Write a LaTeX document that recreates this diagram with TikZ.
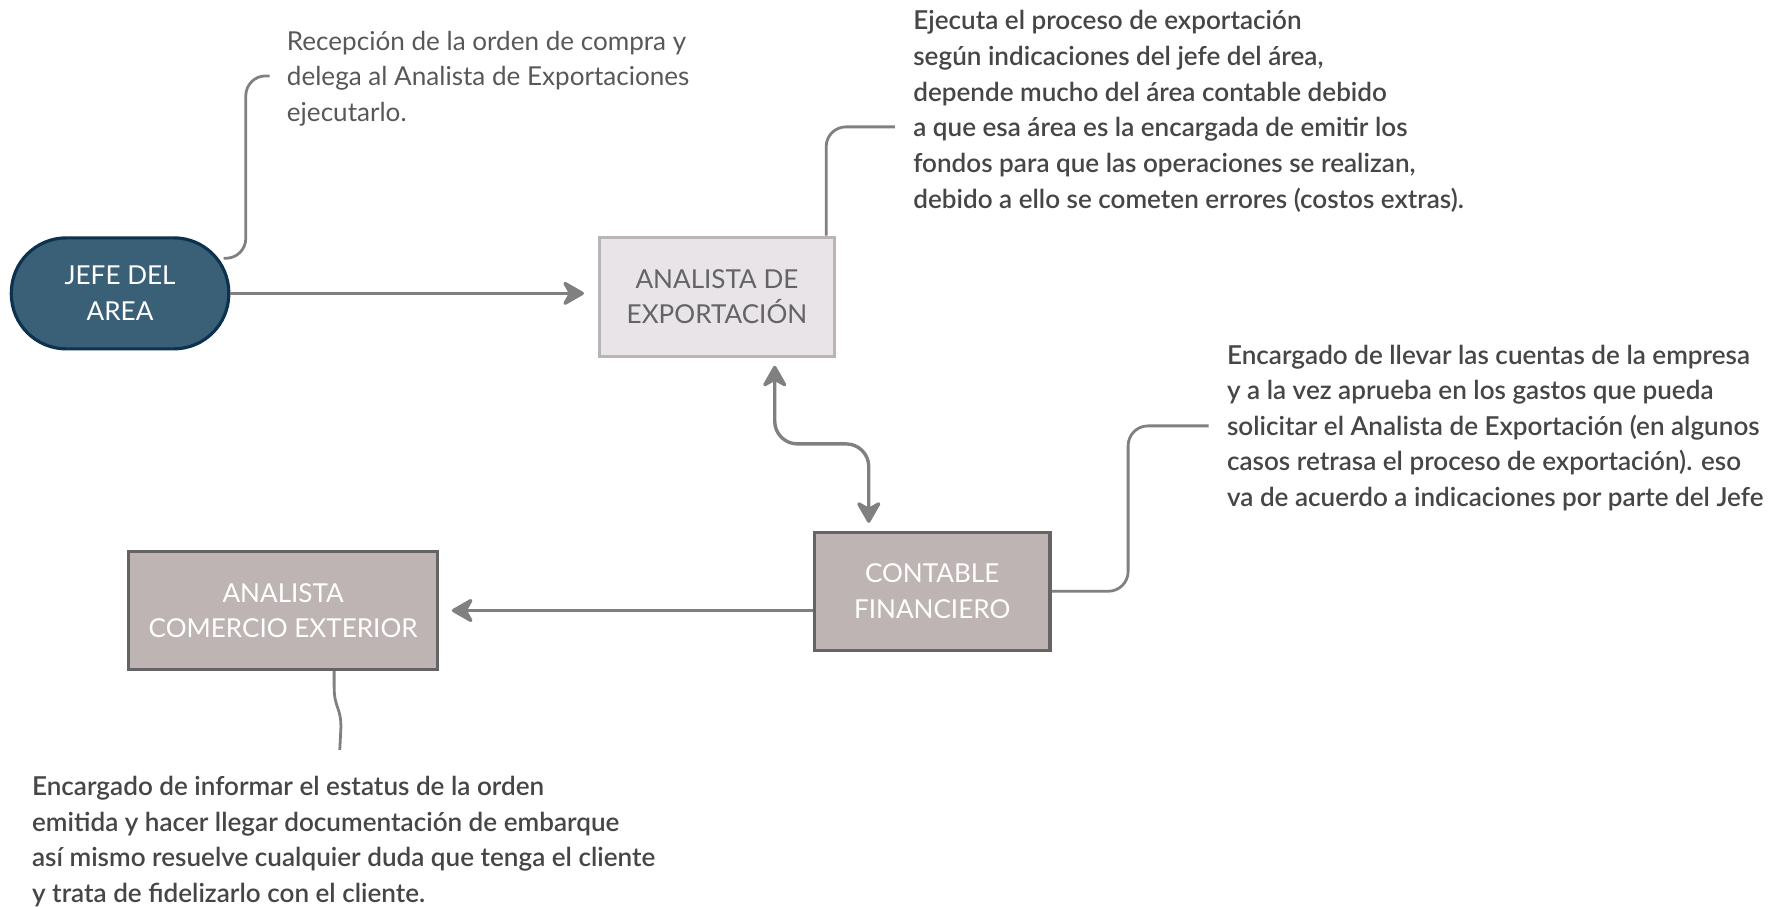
\documentclass[tikz,border=0pt]{standalone}
\usepackage{fontspec}
\setmainfont{Lato}
\newfontfamily\notefont{Lato Semibold}
\usetikzlibrary{positioning, arrows.meta, calc}

\definecolor{jefefill}{RGB}{58,96,120}
\definecolor{jefeline}{RGB}{12,50,80}
\definecolor{lightfill}{RGB}{232,228,232}
\definecolor{lightline}{RGB}{184,180,184}
\definecolor{lighttext}{RGB}{100,100,100}
\definecolor{boxfill}{RGB}{189,180,179}
\definecolor{boxline}{RGB}{100,100,100}
\definecolor{linkgray}{RGB}{128,128,128}
\definecolor{notegray}{RGB}{70,70,70}
\definecolor{notelight}{RGB}{88,88,88}

\tikzset{
  boxfont/.style={font=\fontsize{13.1}{17.8}\selectfont},
  jefe/.style={rectangle, rounded corners=0.97cm, draw=jefeline, fill=jefefill, line width=1.6pt,
    minimum width=3.84cm, minimum height=1.96cm, text=white, align=center, boxfont},
  lightbox/.style={rectangle, draw=lightline, fill=lightfill, line width=1.6pt,
    minimum width=4.16cm, minimum height=2.1cm, text=lighttext, align=center, boxfont},
  darkbox/.style={rectangle, draw=boxline, fill=boxfill, line width=1.6pt,
    minimum width=4.16cm, minimum height=2.08cm, text=white, align=center, boxfont},
  note/.style={anchor=north west, align=left, inner sep=0pt, text=notegray,
    font=\notefont\fontsize{13.1}{17.9}\selectfont},
  link/.style={draw=linkgray, line width=1.7pt},
  callout/.style={draw=linkgray, line width=1.4pt, rounded corners=0.35cm}
}

\begin{document}
\begin{tikzpicture}[x=0.2mm, y=-0.2mm, >={Stealth[length=0.44cm, width=0.5cm, inset=0.14cm, round]}]
  \useasboundingbox (0,0) rectangle (1568,800);

  % roles
  \node[jefe] (jefe) at (106,259) {JEFE DEL\\AREA};
  \node[lightbox] (expo) at (633,262) {ANALISTA DE\\EXPORTACIÓN};
  \node[darkbox] (cont) at (823,522) {CONTABLE\\FINANCIERO};
  \node[darkbox, minimum width=5.46cm] (come) at (250,539) {ANALISTA\\COMERCIO EXTERIOR};

  % notes
  \node[note, text=notelight, font=\fontsize{13.1}{17.9}\selectfont] (t1) at (253,27)
    {Recepción de la orden de compra y\\delega al Analista de Exportaciones\\ejecutarlo.};
  \node[note] (t2) at (806,9)
    {Ejecuta el proceso de exportación\\según indicaciones del jefe del área,\\depende mucho del área contable debido\\a que esa área es la encargada de emitir los\\fondos para que las operaciones se realizan,\\debido a ello se cometen errores (costos extras).};
  \node[note] (t3) at (1083,304)
    {Encargado de llevar las cuentas de la empresa\\y a la vez aprueba en los gastos que pueda\\solicitar el Analista de Exportación (en algunos\\casos retrasa el proceso de exportación). eso\\va de acuerdo a indicaciones por parte del Jefe};
  \node[note] (t4) at (28,685)
    {Encargado de informar el estatus de la orden\\emitida y hacer llegar documentación de embarque\\así mismo resuelve cualquier duda que tenga el cliente\\y trata de fidelizarlo con el cliente.};

  \coordinate (c1) at (238,67);
  \coordinate (c2) at (790,112);
  \coordinate (c3) at (1067,376);
  \coordinate (c4) at (300,662);

  % flow
  \draw[link, ->, shorten >=0.24cm] (jefe.east) -- (jefe.east -| expo.west);
  \draw[link, <->, rounded corners=0.4cm, shorten <=0.14cm, shorten >=0.14cm]
    ($(expo.south)+(51,0)$) -- ++(0,76) -| ($(cont.north)+(-56,0)$);
  \draw[link, ->, shorten >=0.22cm] (cont.west |- come.east) -- (come.east);

  % callouts
  \draw[callout] ($(jefe.east)+(-6,-31)$) -| ($(c1)+(-21,0)$) -- (c1);
  \draw[callout] ($(expo.north east)+(-9,0)$) |- (c2);
  \draw[callout] (cont.east) -| ($(c3)+(-71,0)$) -- (c3);
  \draw[draw=linkgray, line width=1.4pt] ($(come.south)+(45,0)$) -- ++(0,14)
    .. controls (295,625) and (301,624) .. (301,642) -- (c4);
\end{tikzpicture}
\end{document}
